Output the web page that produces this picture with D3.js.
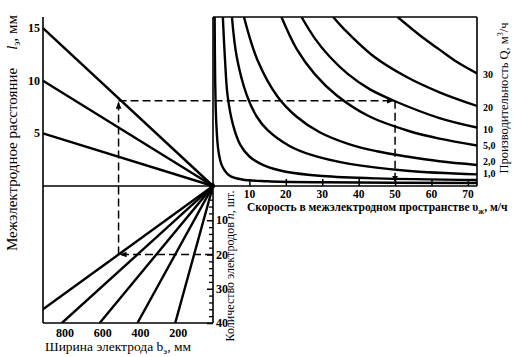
<!DOCTYPE html>
<html><head><meta charset="utf-8">
<script src="https://cdn.jsdelivr.net/npm/d3@7/dist/d3.min.js"></script>
<style>
body{margin:0;background:#fff;}
svg{display:block;font-family:"Liberation Serif","Times New Roman",serif;}
</style></head>
<body>
<script>
// ---- data ----
const lTicks = [5, 10, 15];
const vTicks = [10, 20, 30, 40, 50, 60, 70];
const nTicks = [10, 20, 30, 40];
const bTicks = [200, 400, 600, 800];
const lLines = [15, 10, 5];            // l at b = 900 (top-left lines)
const bLinesAtN40 = [1000, 800, 600, 400, 200]; // b at n = 40 (bottom-left lines)
const qLabels = ["30", "20", "10", "5,0", "2,0", "1,0"];
// curves: [v, l]
const curveQ30 = [[50.7,16.05],[57.6,14.1],[62.2,12.95],[66.9,11.8],[72.5,10.7]];
const curveQ20 = [[33,16.05],[36,14.9],[43.8,12.4],[53.2,10.35],[62.2,8.9],[72.5,7.6]];
const curveQ10 = [[24.3,16.05],[28,14.0],[32,12.3],[37,10.65],[43,9.2],[50,8.05],[62.2,6.45],[72.5,5.55]];
const curveQ5  = [[18.8,16.05],[23,13.0],[28,10.6],[34,8.6],[43,6.6],[54,5.2],[62.2,4.5],[72.5,3.85]];
const curveQ2  = [[8.5,16.05],[12.2,11.97],[17.7,8.5],[22.9,6.6],[29.3,5.1],[37.5,3.95],[45,3.3],[53.2,2.8],[62.2,2.35],[72.5,2.0]];
const curveQ1  = [[5.2,16.05],[6.5,12.3],[9.2,8.7],[12,6.6],[15,5.3],[21,3.8],[27,2.95],[37.5,2.1],[53.2,1.45],[72.5,1.1]];
const curveQ05 = [[2.7,16.05],[3.3,12],[4.0,8.6],[5.5,5.8],[7.5,3.9],[10,2.8],[14,1.95],[20,1.35],[30,0.95],[45,0.72],[72.5,0.57]];
const curveQ02 = [[0.45,16.05],[0.6,10],[0.9,6],[1.5,3.3],[2.5,1.9],[4.5,1.0],[8,0.62],[15,0.45],[30,0.35],[72.5,0.28]];
const curves = [curveQ30, curveQ20, curveQ10, curveQ5, curveQ2, curveQ1, curveQ05, curveQ02];
const exampleB = 500, exampleN = 20, exampleL = 8.1, exampleV = 50;

// ---- scales ----
const W = 518, H = 357;
const xv = d3.scaleLinear().domain([0, 72.5]).range([213, 477]);
const yl = d3.scaleLinear().domain([0, 16.05]).range([186, 17]);
const xb = d3.scaleLinear().domain([0, 900]).range([213, 43]);
const yn = d3.scaleLinear().domain([0, 40]).range([186, 323]);

const svg = d3.select("body").append("svg").attr("width", W).attr("height", H);
const defs = svg.append("defs");
defs.append("clipPath").attr("id","cTR").append("rect")
  .attr("x", xv(0)).attr("y", yl(16.05)).attr("width", xv(72.5)-xv(0)).attr("height", yl(0)-yl(16.05));
defs.append("clipPath").attr("id","cBL").append("rect")
  .attr("x", xb(900)).attr("y", yn(0)).attr("width", xb(0)-xb(900)).attr("height", yn(40)-yn(0));
defs.append("marker").attr("id","arr").attr("viewBox","0 0 10 10")
  .attr("refX",10).attr("refY",5).attr("markerWidth",7).attr("markerHeight",7)
  .attr("markerUnits","userSpaceOnUse").attr("orient","auto")
  .append("path").attr("d","M0,1 L10,5 L0,9 Z").attr("fill","#000");

const ink = "#000";
// frame & axes
const frame = svg.append("g").attr("stroke", ink).attr("stroke-width", 1.6).attr("fill","none");
frame.append("line").attr("x1", xb(900)).attr("x2", xb(900)).attr("y1", yl(16.05)).attr("y2", yn(40));
frame.append("line").attr("x1", xb(900)).attr("x2", xb(0)).attr("y1", yn(40)).attr("y2", yn(40));
frame.append("line").attr("x1", xv(0)).attr("x2", xv(0)).attr("y1", yl(16.05)).attr("y2", yn(40));
frame.append("line").attr("x1", xb(900)).attr("x2", xv(72.5)).attr("y1", yl(0)).attr("y2", yl(0));
frame.append("line").attr("x1", xv(0)).attr("x2", xv(72.5)).attr("y1", yl(16.05)).attr("y2", yl(16.05));
frame.append("line").attr("x1", xv(72.5)).attr("x2", xv(72.5)).attr("y1", yl(16.05)).attr("y2", yl(0));

// v ticks (inside, upward)
svg.append("g").attr("transform", `translate(0,${yl(0)})`)
  .call(d3.axisTop(xv).tickValues(vTicks).tickSize(7).tickFormat(""))
  .call(g => { g.select(".domain").remove(); g.selectAll("line").attr("stroke", ink).attr("stroke-width",1.5); });
// n ticks (left of axis)
const nMinor = d3.range(2, 40, 2).filter(d => d % 10 !== 0);
svg.append("g").attr("transform", `translate(${xv(0)},0)`)
  .call(d3.axisLeft(yn).tickValues(nMinor).tickSize(4).tickFormat(""))
  .call(g => { g.select(".domain").remove(); g.selectAll("line").attr("stroke", ink).attr("stroke-width",1.3); });
svg.append("g").attr("transform", `translate(${xv(0)},0)`)
  .call(d3.axisLeft(yn).tickValues(nTicks).tickSize(6).tickFormat(""))
  .call(g => { g.select(".domain").remove(); g.selectAll("line").attr("stroke", ink).attr("stroke-width",1.5); });

// top-left lines
svg.append("g").selectAll("line").data(lLines).join("line")
  .attr("x1", xb(900)).attr("y1", d => yl(d)).attr("x2", xb(0)).attr("y2", yl(0))
  .attr("stroke", ink).attr("stroke-width", 2.4);
// bottom-left lines
svg.append("g").attr("clip-path","url(#cBL)").selectAll("line").data(bLinesAtN40).join("line")
  .attr("x1", xb(0)).attr("y1", yn(0)).attr("x2", d => xb(d)).attr("y2", yn(40))
  .attr("stroke", ink).attr("stroke-width", 2.4);
// origin blob
svg.append("circle").attr("cx", xv(0)-1).attr("cy", yl(0)).attr("r", 3).attr("fill", ink);

// curves
const lineGen = d3.line().x(d => xv(d[0])).y(d => yl(d[1])).curve(d3.curveCatmullRom.alpha(0.5));
svg.append("g").attr("clip-path","url(#cTR)").selectAll("path").data(curves).join("path")
  .attr("d", lineGen).attr("fill","none").attr("stroke", ink).attr("stroke-width", 2.4);

// dashed example
const dash = svg.append("g").attr("stroke", ink).attr("stroke-width", 1.5).attr("stroke-dasharray","8,4").attr("fill","none");
dash.append("line").attr("x1", xv(0)).attr("y1", yn(exampleN)).attr("x2", xb(exampleB)+1).attr("y2", yn(exampleN)).attr("marker-end","url(#arr)");
dash.append("line").attr("x1", xb(exampleB)).attr("y1", yn(exampleN)).attr("x2", xb(exampleB)).attr("y2", yl(exampleL)+1).attr("marker-end","url(#arr)");
dash.append("line").attr("x1", xb(exampleB)).attr("y1", yl(exampleL)).attr("x2", xv(exampleV)-1).attr("y2", yl(exampleL)).attr("marker-end","url(#arr)");
dash.append("line").attr("x1", xv(exampleV)).attr("y1", yl(exampleL)).attr("x2", xv(exampleV)).attr("y2", yl(0)-3).attr("marker-end","url(#arr)");

// tick labels
const num = svg.append("g").attr("font-weight","bold").attr("font-size", 12).attr("fill", ink);
num.selectAll(".lt").data(lTicks).join("text").attr("class","lt")
  .attr("x", 40).attr("y", d => yl(d) + 4).attr("text-anchor","end").text(d => d);
num.selectAll(".vt").data(vTicks).join("text").attr("class","vt")
  .attr("x", d => xv(d)).attr("y", 197.5).attr("font-size", 11.5).attr("text-anchor","middle").text(d => d);
num.selectAll(".nt").data(nTicks).join("text").attr("class","nt")
  .attr("x", 216).attr("y", d => yn(d) + 4).attr("text-anchor","start").text(d => d);
num.selectAll(".bt").data(bTicks).join("text").attr("class","bt")
  .attr("x", d => xb(d) + 3).attr("y", 337).attr("text-anchor","middle").text(d => d);
const qOffset = [5, 5, 5, 4, 0.5, 2.5];
num.selectAll(".qt").data(qLabels).join("text").attr("class","qt")
  .attr("x", 483).attr("y", (d, i) => yl(curves[i][curves[i].length-1][1]) + qOffset[i])
  .attr("font-size", 10).text(d => d);

// titles
const t1 = svg.append("text").attr("transform","translate(17,133) rotate(-90)").attr("text-anchor","middle").attr("font-size",15);
t1.append("tspan").text("Межэлектродное расстояние");
t1.append("tspan").attr("dx", 18).attr("font-style","italic").text("l");
t1.append("tspan").attr("font-size",10).attr("dy",3).text("э");
t1.append("tspan").attr("dy",-3).text(", мм");

const t2 = svg.append("text").attr("transform","translate(508,98) rotate(-90)").attr("text-anchor","middle").attr("font-size",12.5);
t2.append("tspan").text("Производительность Q, м");
t2.append("tspan").attr("font-size",8).attr("dy",-5).text("3");
t2.append("tspan").attr("dy",5).text("/ч");

const t3 = svg.append("text").attr("transform","translate(234,266) rotate(-90)").attr("text-anchor","middle").attr("font-size",12);
t3.append("tspan").text("Количество электродов  ");
t3.append("tspan").attr("font-style","italic").text("n");
t3.append("tspan").text(", шт.");

const t4 = svg.append("text").attr("x",247).attr("y",210.5).attr("font-size",11.5).attr("font-weight","bold");
t4.append("tspan").text("Скорость в межэлектродном пространстве  υ");
t4.append("tspan").attr("font-size",8).attr("dy",3).text("ж");
t4.append("tspan").attr("dy",-3).text(", м/ч");

const t5 = svg.append("text").attr("x",118).attr("y",351).attr("text-anchor","middle").attr("font-size",13.5);
t5.append("tspan").text("Ширина электрода b");
t5.append("tspan").attr("font-size",9).attr("dy",3).text("э");
t5.append("tspan").attr("dy",-3).text(", мм");
</script>
</body></html>
